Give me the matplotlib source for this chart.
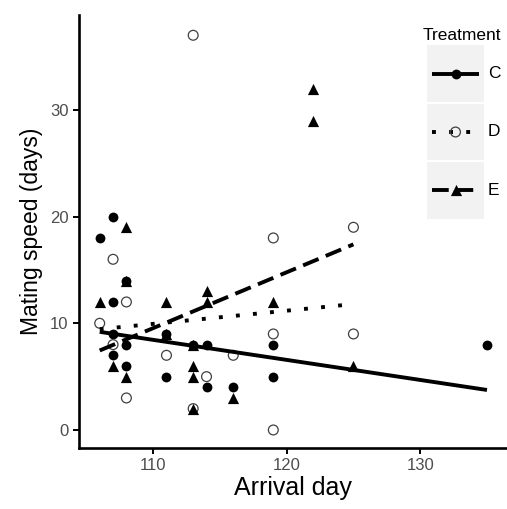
import matplotlib

matplotlib.use("Agg")
import matplotlib.pyplot as plt
from matplotlib.lines import Line2D

plt.rcParams["font.family"] = ["Liberation Sans", "DejaVu Sans"]

# Treatment C (filled circles)
c_day = [106, 107, 107, 107, 107, 108, 108, 108, 111, 111, 113, 114, 114, 116, 119, 119, 135]
c_speed = [18, 20, 12, 9, 7, 8, 6, 14, 9, 5, 8, 8, 4, 4, 8, 5, 8]

# Treatment D (open circles)
d_day = [106, 107, 108, 107, 108, 111, 113, 113, 114, 116, 119, 119, 119, 125, 125]
d_speed = [10, 16, 12, 8, 3, 7, 37, 2, 5, 7, 18, 9, 0, 19, 9]

# Treatment E (triangles)
e_day = [106, 107, 108, 108, 108, 111, 111, 113, 113, 113, 113, 114, 114, 116, 119, 122, 122, 125]
e_speed = [12, 6, 19, 14, 5, 12, 9, 8, 6, 5, 2, 13, 12, 3, 12, 32, 29, 6]

# fitted lines
c_fit_day = [106, 135]
c_fit_speed = [9.2, 3.75]
d_fit_day = [106, 125]
d_fit_speed = [9.45, 11.8]
e_fit_day = [106, 125]
e_fit_speed = [7.45, 17.4]

treatments = ["C", "D", "E"]
x_ticks = [110, 120, 130]
y_ticks = [0, 10, 20, 30]

W, H = 507, 509
fig = plt.figure(figsize=(W / 100, H / 100), dpi=100)
ax = fig.add_axes([79 / W, 1 - 448 / H, (W - 79) / W, (448 - 15) / H])

LW = 2.8
DOT = (0, (1, 3.4))
DASH = (0, (4.3, 2.0))
S_CIRCLE = 50
S_TRI = 65

ax.scatter(c_day, c_speed, s=S_CIRCLE, color="black", linewidths=0, zorder=2)
ax.scatter(d_day, d_speed, s=S_CIRCLE, facecolors="none", edgecolors="#404040",
           linewidths=0.9, zorder=2)
ax.scatter(e_day, e_speed, s=S_TRI, marker="^", color="black", linewidths=0, zorder=2)

ax.plot(c_fit_day, c_fit_speed, color="black", lw=LW, solid_capstyle="butt", zorder=3)
ax.plot(d_fit_day, d_fit_speed, color="black", lw=LW, linestyle=DOT, zorder=3)
ax.plot(e_fit_day, e_fit_speed, color="black", lw=LW, linestyle=DASH, zorder=3)

ax.set_xlim(104.45, 136.5)
ax.set_ylim(-1.69, 38.9)
ax.set_xticks(x_ticks)
ax.set_yticks(y_ticks)
for side in ["top", "right"]:
    ax.spines[side].set_visible(False)
for side in ["left", "bottom"]:
    ax.spines[side].set_linewidth(1.9)
ax.tick_params(direction="out", length=4.5, width=1.4, color="black",
               labelcolor="#4d4d4d", labelsize=12, pad=3)
ax.set_xlabel("Arrival day", fontsize=18, labelpad=2)
ax.set_ylabel("Mating speed (days)", fontsize=16.5, labelpad=5)

# legend, built by hand to get the grey key boxes
lax = fig.add_axes([427 / W, 1 - 219 / H, 57 / W, 174 / H])
lax.set_xlim(0, 1)
lax.set_ylim(0, 3)
lax.axis("off")
lax.axhspan(0, 3, color="#f2f2f2", zorder=0)
for yy in [1, 2]:
    lax.axhline(yy, color="white", lw=1.5, zorder=1)
styles = [
    ("-", "o", "black", S_CIRCLE),
    (DOT, "o", "none", S_CIRCLE),
    (DASH, "^", "black", S_TRI),
]
for i, (lab, (ls, mk, fc, sz)) in enumerate(zip(treatments, styles)):
    yy = 2.5 - i
    lax.add_line(Line2D([0.09, 0.91], [yy, yy], color="black", lw=LW,
                        linestyle=ls, solid_capstyle="butt"))
    lax.scatter([0.5], [yy], s=sz, marker=mk, facecolors=fc,
                edgecolors="#404040" if fc == "none" else "black",
                linewidths=0.9 if fc == "none" else 0, zorder=3)
    lax.text(1.07, yy, lab, fontsize=12.5, va="center", ha="left")
fig.text(462 / W, 1 - 35 / H, "Treatment", fontsize=12.5, ha="center", va="center")

fig.savefig("out.png", dpi=100)
